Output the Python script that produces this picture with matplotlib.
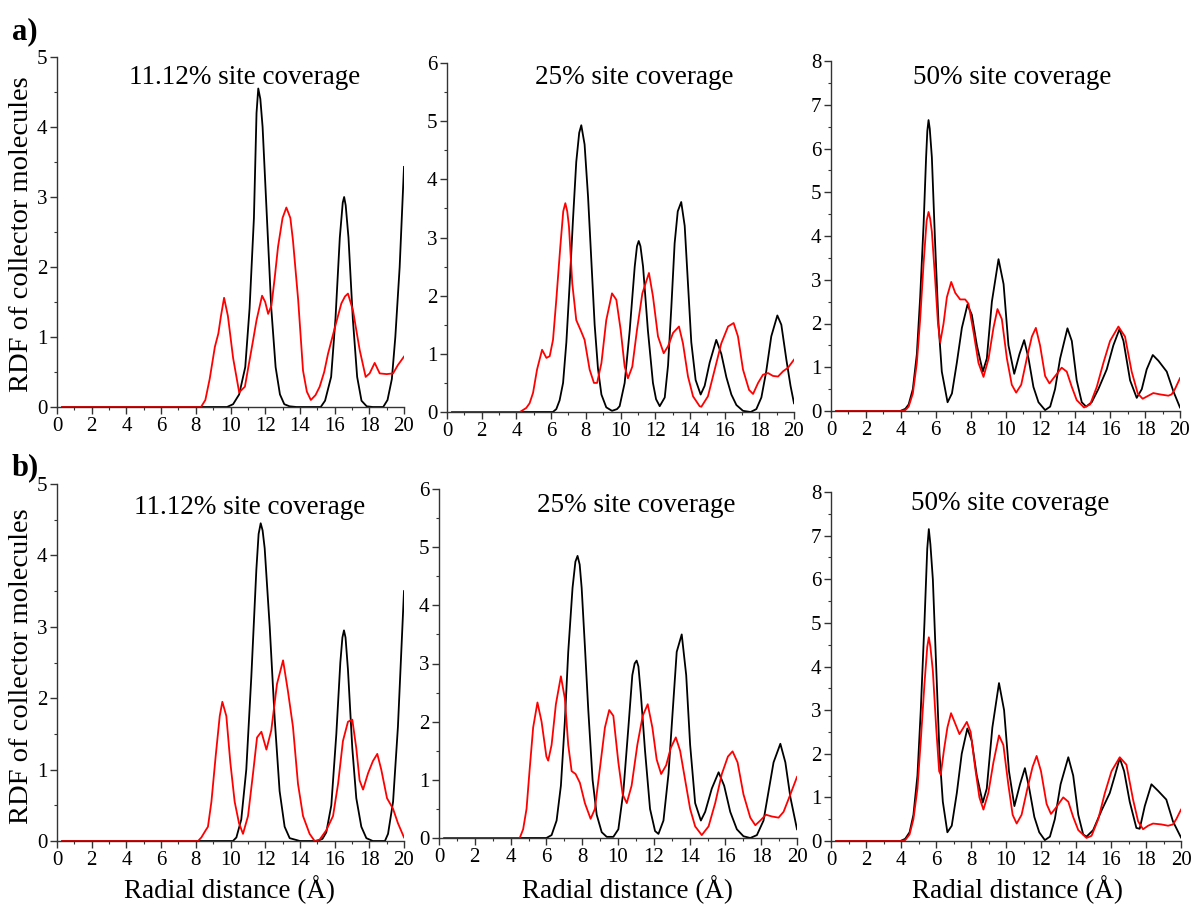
import matplotlib.pyplot as plt
from matplotlib.ticker import MultipleLocator

plt.rcParams['font.family'] = ['Liberation Serif', 'DejaVu Serif']

# ---- data: r (Angstrom) and RDF values ----
# panel a) 11.12 %
a1_black_r = [0.3, 9.8, 10.15, 10.5, 10.85, 11.1, 11.35, 11.5, 11.6, 11.72, 11.85, 12.1, 12.35, 12.6, 12.85, 13.1, 13.4, 13.8,
              15.2, 15.45, 15.8, 16.05, 16.3, 16.47, 16.55, 16.64, 16.8, 17.05, 17.3, 17.55, 17.85, 18.2, 18.8, 19.05, 19.3, 19.5, 19.75, 20.0]
a1_black_g = [0.0, 0.0, 0.04, 0.18, 0.57, 1.41, 2.7, 4.2, 4.55, 4.4, 4.0, 2.7, 1.41, 0.57, 0.18, 0.04, 0.01, 0.0,
              0.0, 0.09, 0.43, 1.26, 2.42, 2.92, 3.0, 2.88, 2.42, 1.26, 0.43, 0.09, 0.01, 0.0, 0.0, 0.1, 0.4, 1.0, 2.0, 3.43]
a1_red_r = [0.3, 8.3, 8.55, 8.8, 9.1, 9.3, 9.45, 9.63, 9.85, 10.15, 10.5, 10.83, 11.1, 11.3, 11.5, 11.82, 12.0, 12.17,
            12.36, 12.55, 12.74, 13.0, 13.22, 13.45, 13.6, 13.9, 14.18, 14.4, 14.63, 14.9, 15.14, 15.4, 15.62, 16.0,
            16.39, 16.6, 16.77, 17.06, 17.25, 17.45, 17.79, 18.02, 18.31, 18.6, 19.0, 19.37, 19.65, 20.0]
a1_red_g = [0.0, 0.0, 0.1, 0.4, 0.86, 1.05, 1.3, 1.56, 1.3, 0.7, 0.21, 0.29, 0.67, 0.95, 1.24, 1.59, 1.5, 1.33,
            1.45, 1.85, 2.29, 2.7, 2.85, 2.7, 2.38, 1.53, 0.52, 0.22, 0.1, 0.17, 0.29, 0.5, 0.76, 1.12,
            1.48, 1.58, 1.62, 1.38, 1.1, 0.81, 0.43, 0.48, 0.63, 0.48, 0.47, 0.48, 0.6, 0.72]

# panel a) 25 %
a2_black_r = [0.3, 6.1, 6.3, 6.49, 6.69, 6.88, 7.07, 7.26, 7.45, 7.62, 7.74, 7.93, 8.13, 8.32, 8.51, 8.7, 8.9, 9.18, 9.51,
              9.8, 9.95, 10.24, 10.53, 10.82, 10.95, 11.05, 11.15, 11.3, 11.58, 11.87, 12.05, 12.26, 12.55, 12.74, 12.93, 13.12,
              13.3, 13.5, 13.7, 13.89, 14.08, 14.33, 14.62, 14.85, 15.14, 15.52, 15.81, 16.1, 16.39, 16.68, 17.06,
              17.5, 17.83, 18.12, 18.4, 18.69, 19.04, 19.27, 19.56, 19.8, 20.0]
a2_black_g = [0.0, 0.0, 0.05, 0.2, 0.5, 1.2, 2.2, 3.3, 4.3, 4.8, 4.93, 4.6, 3.7, 2.6, 1.5, 0.75, 0.3, 0.08, 0.02,
              0.05, 0.1, 0.5, 1.4, 2.5, 2.85, 2.94, 2.85, 2.5, 1.4, 0.5, 0.22, 0.1, 0.25, 0.8, 1.8, 2.9,
              3.45, 3.61, 3.2, 2.2, 1.2, 0.55, 0.3, 0.45, 0.85, 1.24, 1.0, 0.6, 0.3, 0.12, 0.02,
              0.0, 0.05, 0.25, 0.7, 1.3, 1.66, 1.5, 0.9, 0.45, 0.15]
a2_red_r = [0.3, 4.2, 4.57, 4.76, 4.96, 5.19, 5.48, 5.73, 5.92, 6.11, 6.3, 6.53, 6.7, 6.82, 6.93, 7.03, 7.22, 7.45, 7.74, 7.93,
            8.22, 8.47, 8.65, 8.9, 9.18, 9.51, 9.76, 10.01, 10.24, 10.43, 10.68, 10.95, 11.26, 11.64, 11.87, 12.16,
            12.49, 12.74, 13.03, 13.37, 13.6, 13.89, 14.18, 14.56, 14.66, 15.04, 15.43, 15.81, 16.2, 16.52, 16.77,
            17.06, 17.41, 17.64, 17.93, 18.21, 18.5, 18.79, 19.08, 19.37, 19.65, 20.0]
a2_red_g = [0.0, 0.0, 0.07, 0.15, 0.33, 0.73, 1.07, 0.93, 0.96, 1.24, 1.93, 2.84, 3.45, 3.59, 3.45, 3.19, 2.21, 1.58, 1.38, 1.24,
            0.73, 0.5, 0.5, 0.84, 1.58, 2.04, 1.93, 1.41, 0.78, 0.58, 0.78, 1.41, 2.04, 2.39, 1.99, 1.3,
            1.01, 1.13, 1.36, 1.47, 1.18, 0.61, 0.27, 0.1, 0.09, 0.27, 0.73, 1.18, 1.47, 1.53, 1.3,
            0.73, 0.38, 0.31, 0.5, 0.64, 0.67, 0.62, 0.61, 0.7, 0.76, 0.9]

# panel a) 50 %
a3_black_r = [0.3, 3.97, 4.26, 4.45, 4.69, 4.92, 5.11, 5.31, 5.45, 5.52, 5.59, 5.66, 5.78, 5.97, 6.16, 6.35, 6.68, 6.93, 7.21,
              7.5, 7.82, 8.07, 8.36, 8.7, 8.93, 9.22, 9.6, 9.89, 10.17, 10.5, 10.8, 11.07, 11.32, 11.6, 11.89, 12.27,
              12.56, 12.84, 13.13, 13.55, 13.8, 14.08, 14.37, 14.62, 14.94, 15.32, 15.8, 16.18, 16.53, 16.76, 17.14,
              17.52, 17.81, 18.09, 18.44, 18.76, 19.24, 19.62, 20.0]
a3_black_g = [0.0, 0.0, 0.05, 0.15, 0.5, 1.3, 2.6, 4.3, 5.8, 6.4, 6.65, 6.45, 5.8, 3.8, 2.0, 0.9, 0.2, 0.4, 1.1,
              1.9, 2.43, 2.2, 1.5, 0.9, 1.2, 2.5, 3.47, 2.9, 1.5, 0.85, 1.3, 1.62, 1.2, 0.55, 0.2, 0.02,
              0.1, 0.5, 1.2, 1.89, 1.6, 0.7, 0.2, 0.1, 0.2, 0.5, 0.95, 1.5, 1.87, 1.6, 0.7,
              0.3, 0.5, 0.95, 1.28, 1.15, 0.9, 0.45, 0.08]
a3_red_r = [0.3, 3.97, 4.26, 4.45, 4.69, 4.92, 5.11, 5.31, 5.48, 5.59, 5.68, 5.78, 5.97, 6.13, 6.26, 6.45, 6.64, 6.89, 7.12,
            7.4, 7.69, 7.88, 8.17, 8.45, 8.74, 9.03, 9.31, 9.54, 9.79, 10.08, 10.36, 10.61, 10.9, 11.22, 11.51,
            11.74, 11.98, 12.27, 12.52, 12.75, 13.22, 13.51, 13.8, 14.08, 14.5, 14.85, 15.23, 15.61, 15.99, 16.47,
            16.85, 17.23, 17.58, 17.86, 18.19, 18.47, 18.85, 19.33, 19.52, 19.71, 20.0]
a3_red_g = [0.0, 0.0, 0.02, 0.1, 0.4, 1.1, 2.1, 3.4, 4.35, 4.55, 4.4, 4.1, 3.0, 2.0, 1.57, 2.0, 2.6, 2.95, 2.7,
            2.55, 2.55, 2.45, 1.8, 1.1, 0.78, 1.2, 1.9, 2.33, 2.1, 1.2, 0.6, 0.42, 0.6, 1.2, 1.7,
            1.9, 1.5, 0.8, 0.63, 0.75, 0.99, 0.9, 0.55, 0.25, 0.08, 0.15, 0.55, 1.1, 1.6, 1.93,
            1.7, 0.9, 0.4, 0.28, 0.35, 0.41, 0.38, 0.35, 0.38, 0.5, 0.75]

# panel b) 11.12 %
b1_black_r = [0.3, 10.14, 10.34, 10.62, 10.91, 11.2, 11.49, 11.62, 11.74, 11.85, 11.97, 12.26, 12.55, 12.83, 13.12, 13.41, 14.0,
              15.0, 15.3, 15.52, 15.81, 16.1, 16.33, 16.45, 16.54, 16.63, 16.77, 17.02, 17.25, 17.54, 17.83, 18.2, 18.9, 19.08,
              19.37, 19.65, 20.0]
b1_black_g = [0.0, 0.0, 0.05, 0.3, 1.0, 2.3, 3.8, 4.3, 4.45, 4.35, 4.1, 3.0, 1.7, 0.7, 0.2, 0.04, 0.0,
              0.0, 0.03, 0.12, 0.5, 1.5, 2.5, 2.85, 2.95, 2.85, 2.4, 1.3, 0.6, 0.2, 0.04, 0.0, 0.0, 0.1,
              0.55, 1.6, 3.5]
b1_red_r = [0.3, 8.13, 8.32, 8.57, 8.7, 8.9, 9.15, 9.38, 9.53, 9.76, 9.99, 10.24, 10.49, 10.72, 11.01, 11.3, 11.53,
            11.78, 12.07, 12.35, 12.68, 13.03, 13.31, 13.6, 13.89, 14.18, 14.56, 14.85, 15.14, 15.52, 15.91, 16.2,
            16.48, 16.77, 17.02, 17.25, 17.44, 17.64, 17.93, 18.21, 18.46, 18.69, 19.02, 19.37, 19.65, 20.0]
b1_red_g = [0.0, 0.0, 0.05, 0.15, 0.2, 0.55, 1.2, 1.75, 1.95, 1.75, 1.1, 0.55, 0.25, 0.1, 0.35, 0.95, 1.45,
            1.53, 1.28, 1.55, 2.2, 2.53, 2.1, 1.6, 0.8, 0.35, 0.1, 0.0, 0.02, 0.15, 0.35, 0.8,
            1.4, 1.67, 1.7, 1.3, 0.85, 0.72, 0.95, 1.12, 1.22, 1.0, 0.6, 0.45, 0.25, 0.05]

# panel b) 25 %
b2_black_r = [0.3, 6.0, 6.29, 6.57, 6.81, 7.03, 7.22, 7.46, 7.62, 7.74, 7.86, 7.97, 8.15, 8.34, 8.58, 8.81, 9.09, 9.37, 9.74,
              10.02, 10.3, 10.58, 10.8, 10.93, 11.04, 11.14, 11.27, 11.51, 11.79, 12.07, 12.26, 12.54, 12.82, 13.06, 13.28, 13.56,
              13.81, 14.03, 14.31, 14.63, 14.87, 15.24, 15.62, 15.93, 16.27, 16.64, 17.01, 17.39, 17.76, 18.13,
              18.41, 18.69, 19.07, 19.35, 19.63, 20.0]
b2_black_g = [0.0, 0.0, 0.05, 0.3, 0.9, 2.0, 3.2, 4.3, 4.75, 4.85, 4.7, 4.3, 3.3, 2.2, 1.0, 0.4, 0.1, 0.02, 0.02,
              0.15, 0.8, 1.9, 2.8, 3.0, 3.05, 2.95, 2.5, 1.5, 0.5, 0.12, 0.07, 0.3, 1.1, 2.2, 3.2, 3.5,
              2.8, 1.6, 0.6, 0.3, 0.45, 0.85, 1.13, 0.9, 0.45, 0.15, 0.03, 0.0, 0.05, 0.3,
              0.8, 1.3, 1.62, 1.3, 0.7, 0.15]
b2_red_r = [0.3, 4.51, 4.7, 4.89, 5.07, 5.26, 5.5, 5.73, 6.0, 6.1, 6.29, 6.53, 6.81, 7.03, 7.22, 7.41, 7.63, 7.87,
            8.15, 8.47, 8.71, 8.99, 9.27, 9.51, 9.74, 10.02, 10.26, 10.49, 10.76, 11.08, 11.38, 11.66, 11.92, 12.16,
            12.41, 12.69, 12.95, 13.23, 13.47, 13.75, 14.03, 14.31, 14.68, 15.06, 15.43, 15.8, 16.14, 16.4, 16.68,
            17.01, 17.39, 17.67, 17.95, 18.26, 18.6, 18.97, 19.25, 19.63, 20.0]
b2_red_g = [0.0, 0.0, 0.15, 0.5, 1.2, 1.9, 2.33, 2.0, 1.4, 1.33, 1.6, 2.3, 2.78, 2.4, 1.6, 1.15, 1.1, 0.95,
            0.6, 0.33, 0.5, 1.2, 1.9, 2.2, 2.1, 1.3, 0.75, 0.6, 0.9, 1.6, 2.1, 2.3, 1.9, 1.35,
            1.1, 1.25, 1.55, 1.73, 1.5, 1.0, 0.5, 0.2, 0.05, 0.2, 0.6, 1.1, 1.4, 1.49, 1.3,
            0.75, 0.35, 0.22, 0.3, 0.4, 0.37, 0.35, 0.45, 0.75, 1.05]

# panel b) 50 %
b3_black_r = [0.3, 3.97, 4.24, 4.49, 4.71, 4.94, 5.13, 5.34, 5.5, 5.59, 5.68, 5.82, 6.01, 6.2, 6.39, 6.65, 6.9, 7.19, 7.47,
              7.79, 8.04, 8.33, 8.67, 8.9, 9.22, 9.6, 9.89, 10.17, 10.48, 10.8, 11.08, 11.33, 11.62, 11.9, 12.22,
              12.51, 12.79, 13.12, 13.56, 13.84, 14.13, 14.41, 14.6, 14.98, 15.46, 15.93, 16.22, 16.5, 16.75, 17.07,
              17.45, 17.64, 17.93, 18.31, 18.69, 19.16, 19.54, 20.0]
b3_black_g = [0.0, 0.0, 0.05, 0.2, 0.6, 1.5, 3.0, 5.0, 6.7, 7.15, 6.8, 6.0, 4.0, 2.0, 0.9, 0.2, 0.35, 1.1, 2.0,
              2.58, 2.3, 1.5, 0.88, 1.2, 2.6, 3.62, 3.0, 1.6, 0.8, 1.3, 1.67, 1.2, 0.55, 0.2, 0.02,
              0.1, 0.5, 1.3, 1.92, 1.5, 0.6, 0.15, 0.1, 0.25, 0.7, 1.1, 1.5, 1.9, 1.6, 0.9,
              0.3, 0.28, 0.8, 1.3, 1.15, 0.95, 0.45, 0.08]
b3_red_r = [0.3, 3.97, 4.24, 4.49, 4.71, 4.94, 5.13, 5.34, 5.5, 5.59, 5.68, 5.82, 6.01, 6.18, 6.27, 6.46, 6.65, 6.86, 7.09,
            7.34, 7.57, 7.76, 7.98, 8.23, 8.48, 8.71, 8.99, 9.28, 9.6, 9.85, 10.13, 10.38, 10.61, 10.89, 11.22,
            11.52, 11.75, 12.0, 12.32, 12.57, 12.83, 13.27, 13.56, 13.84, 14.13, 14.6, 14.89, 15.27, 15.65, 16.03,
            16.5, 16.88, 17.26, 17.55, 17.83, 18.12, 18.4, 18.88, 19.26, 19.54, 19.73, 20.0]
b3_red_g = [0.0, 0.0, 0.02, 0.15, 0.5, 1.2, 2.3, 3.6, 4.45, 4.67, 4.45, 3.9, 2.6, 1.6, 1.52, 2.1, 2.6, 2.93, 2.7,
            2.45, 2.6, 2.73, 2.5, 1.7, 1.0, 0.72, 1.1, 1.8, 2.42, 2.2, 1.3, 0.6, 0.4, 0.6, 1.2,
            1.7, 1.95, 1.6, 0.85, 0.62, 0.75, 1.0, 0.9, 0.55, 0.25, 0.07, 0.12, 0.5, 1.1, 1.6,
            1.92, 1.75, 0.95, 0.45, 0.27, 0.35, 0.4, 0.38, 0.35, 0.38, 0.5, 0.72]

titles = ["11.12% site coverage", "25% site coverage", "50% site coverage"]
y_max = [5, 6, 8]

W, H = 1195, 907
fig = plt.figure(figsize=(W / 100, H / 100), dpi=100)

def px_axes(left, right, top, bottom):
    return fig.add_axes([left / W, 1 - bottom / H, (right - left) / W, (bottom - top) / H])

boxes = [(57, 404, 57, 407), (447, 794, 63, 412), (831, 1180, 61, 411),
         (57, 404, 484, 841), (439, 797, 489, 838), (831, 1181, 492, 841)]
title_pos = [(245, 77), (634, 78), (1012, 77), (250, 508), (636, 505), (1010, 503)]

curves = [(a1_black_r, a1_black_g, a1_red_r, a1_red_g),
          (a2_black_r, a2_black_g, a2_red_r, a2_red_g),
          (a3_black_r, a3_black_g, a3_red_r, a3_red_g),
          (b1_black_r, b1_black_g, b1_red_r, b1_red_g),
          (b2_black_r, b2_black_g, b2_red_r, b2_red_g),
          (b3_black_r, b3_black_g, b3_red_r, b3_red_g)]

for i, (box, (kr, kg, rr, rg)) in enumerate(zip(boxes, curves)):
    ax = px_axes(*box)
    ax.plot(kr, kg, color='black', lw=1.3)
    ax.plot(rr, rg, color='red', lw=1.3)
    ax.set_xlim(0, 20)
    ax.set_ylim(0, y_max[i % 3])
    ax.xaxis.set_major_locator(MultipleLocator(2))
    ax.xaxis.set_minor_locator(MultipleLocator(1))
    ax.yaxis.set_major_locator(MultipleLocator(1))
    ax.yaxis.set_minor_locator(MultipleLocator(0.5))
    for s in ['top', 'right']:
        ax.spines[s].set_visible(False)
    for s in ['left', 'bottom']:
        ax.spines[s].set_color('#333333')
        ax.spines[s].set_linewidth(1.0)
    ax.tick_params(which='major', direction='out', length=5, width=1.0, labelsize=15, pad=2, colors='#333333',
                   labelcolor='black')
    ax.tick_params(which='minor', direction='out', length=2.5, width=0.8, colors='#333333')
    tx, ty = title_pos[i]
    fig.text(tx / W, 1 - ty / H, titles[i % 3], ha='center', va='center', fontsize=19.5)

# axis labels
for yc in (234, 666):
    fig.text(22 / W, 1 - yc / H, "RDF of collector molecules", rotation=90, ha='center', va='center', fontsize=20.5)
for xc in (230, 627, 1017):
    fig.text(xc / W, 1 - 890 / H, "Radial distance (Å)", ha='center', va='center', fontsize=19.5)

fig.text(25 / W, 1 - 32 / H, "a)", ha='center', va='center', fontsize=22, fontweight='bold')
fig.text(25 / W, 1 - 468 / H, "b)", ha='center', va='center', fontsize=22, fontweight='bold')

fig.savefig("out.png", dpi=100)
